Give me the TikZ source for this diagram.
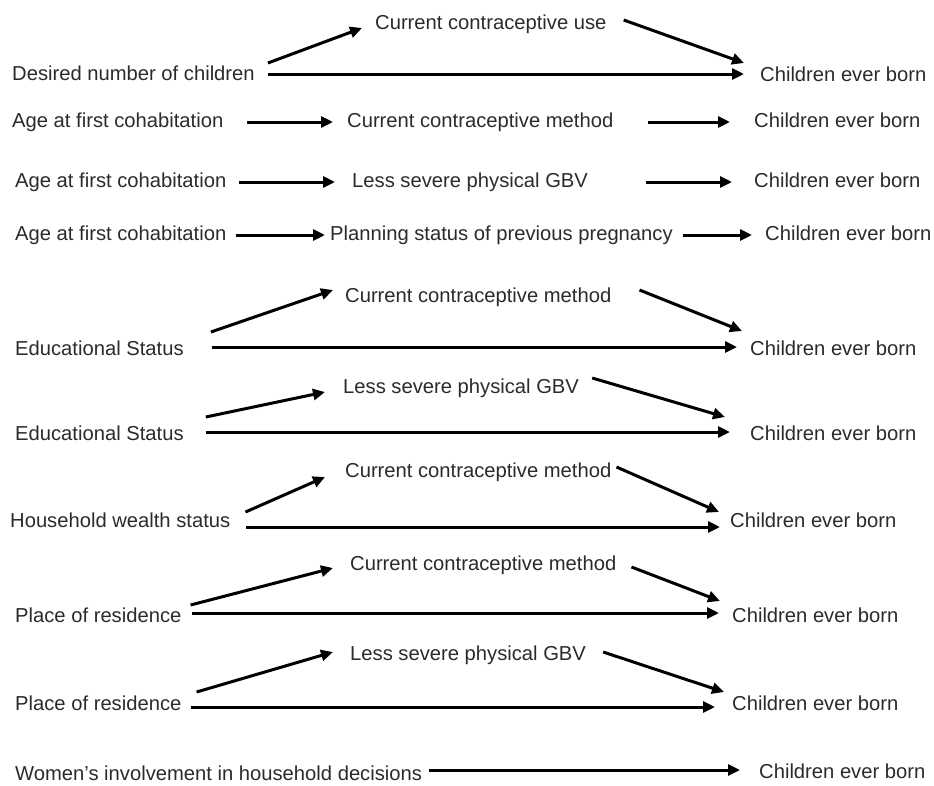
\documentclass[tikz,border=0pt]{standalone}
\usepackage{fontspec}
\setmainfont{Liberation Sans}
\usetikzlibrary{arrows.meta}
\definecolor{txt}{rgb}{0.17,0.17,0.17}
\begin{document}
\begin{tikzpicture}[x=1pt,y=-1pt,
  lbl/.style={anchor=west, inner sep=0pt, text height=14pt, text depth=4pt,
    font=\fontsize{20.2pt}{24pt}\selectfont, text=txt},
  arr/.style={line width=3pt, -{Triangle[length=12pt,width=11pt]}}]
\fill[white] (0,0) rectangle (934,785);
\useasboundingbox (0,0) rectangle (934,785);

% Row 1
\node[lbl] (L1) at (12,75) {Desired number of children};
\node[lbl] (M1) at (375,24) {Current contraceptive use};
\node[lbl] (E1) at (760,76) {Children ever born};
\draw[arr] ([shift={(13,-12)}]L1.east) -- ([shift={(-13,4)}]M1.west);
\draw[arr] ([shift={(17,-4)}]M1.east) -- ([shift={(-16,-13)}]E1.west);
\draw[arr] ([shift={(13,-1)}]L1.east) -- ([shift={(-16,-2)}]E1.west);

% Row 2
\node[lbl] (L2) at (12,122) {Age at first cohabitation};
\node[lbl] (M2) at (347,122) {Current contraceptive method};
\node[lbl] (E2) at (754,122) {Children ever born};
\draw[arr] ([xshift=23pt]L2.east) -- ([xshift=-14pt]M2.west);
\draw[arr] ([xshift=34pt]M2.east) -- ([xshift=-24pt]E2.west);

% Row 3
\node[lbl] (L3) at (15,182) {Age at first cohabitation};
\node[lbl] (M3) at (352,182) {Less severe physical GBV};
\node[lbl] (E3) at (754,182) {Children ever born};
\draw[arr] ([xshift=12pt]L3.east) -- ([xshift=-17pt]M3.west);
\draw[arr] ([xshift=58pt]M3.east) -- ([xshift=-22pt]E3.west);

% Row 4
\node[lbl] (L4) at (15,235) {Age at first cohabitation};
\node[lbl] (M4) at (330,235) {Planning status of previous pregnancy};
\node[lbl] (E4) at (765,235) {Children ever born};
\draw[arr] ([xshift=9pt]L4.east) -- ([xshift=-5pt]M4.west);
\draw[arr] ([xshift=10pt]M4.east) -- ([xshift=-13pt]E4.west);

% Row 5
\node[lbl] (L5) at (15,350) {Educational Status};
\node[lbl] (M5) at (345,297) {Current contraceptive method};
\node[lbl] (E5) at (750,350) {Children ever born};
\draw[arr] ([shift={(27,-18)}]L5.east) -- ([shift={(-12,-7)}]M5.west);
\draw[arr] ([shift={(28,-7)}]M5.east) -- ([shift={(-8,-19)}]E5.west);
\draw[arr] ([shift={(28,-3)}]L5.east) -- ([shift={(-13,-3)}]E5.west);

% Row 6
\node[lbl] (L6) at (15,435) {Educational Status};
\node[lbl] (M6) at (343,388) {Less severe physical GBV};
\node[lbl] (E6) at (750,435) {Children ever born};
\draw[arr] ([shift={(22,-18)}]L6.east) -- ([shift={(-18,4)}]M6.west);
\draw[arr] ([shift={(13,-10)}]M6.east) -- ([shift={(-25,-18)}]E6.west);
\draw[arr] ([shift={(22,-3)}]L6.east) -- ([shift={(-20,-3)}]E6.west);

% Row 7
\node[lbl] (L7) at (10,522) {Household wealth status};
\node[lbl] (M7) at (345,472) {Current contraceptive method};
\node[lbl] (E7) at (730,522) {Children ever born};
\draw[arr] ([shift={(15,-10)}]L7.east) -- ([shift={(-20,5)}]M7.west);
\draw[arr] ([shift={(5,-5)}]M7.east) -- ([shift={(-11,-10)}]E7.west);
\draw[arr] ([shift={(16,5)}]L7.east) -- ([shift={(-10,5)}]E7.west);

% Row 8
\node[lbl] (L8) at (15,617) {Place of residence};
\node[lbl] (M8) at (350,565) {Current contraceptive method};
\node[lbl] (E8) at (732,617) {Children ever born};
\draw[arr] ([shift={(9,-12)}]L8.east) -- ([shift={(-17,3)}]M8.west);
\draw[arr] ([shift={(15,2)}]M8.east) -- ([shift={(-12,-16)}]E8.west);
\draw[arr] ([shift={(10,-4)}]L8.east) -- ([shift={(-13,-4)}]E8.west);

% Row 9
\node[lbl] (L9) at (15,705) {Place of residence};
\node[lbl] (M9) at (350,655) {Less severe physical GBV};
\node[lbl] (E9) at (732,705) {Children ever born};
\draw[arr] ([shift={(15,-13)}]L9.east) -- ([shift={(-17,-3)}]M9.west);
\draw[arr] ([shift={(17,-3)}]M9.east) -- ([shift={(-8,-13)}]E9.west);
\draw[arr] ([shift={(9,2)}]L9.east) -- ([shift={(-17,2)}]E9.west);

% Row 10
\node[lbl] (L10) at (15,775) {Women's involvement in household decisions};
\node[lbl] (E10) at (759,773) {Children ever born};
\draw[arr] ([shift={(7,-5)}]L10.east) -- ([shift={(-19,-3)}]E10.west);
\end{tikzpicture}
\end{document}
